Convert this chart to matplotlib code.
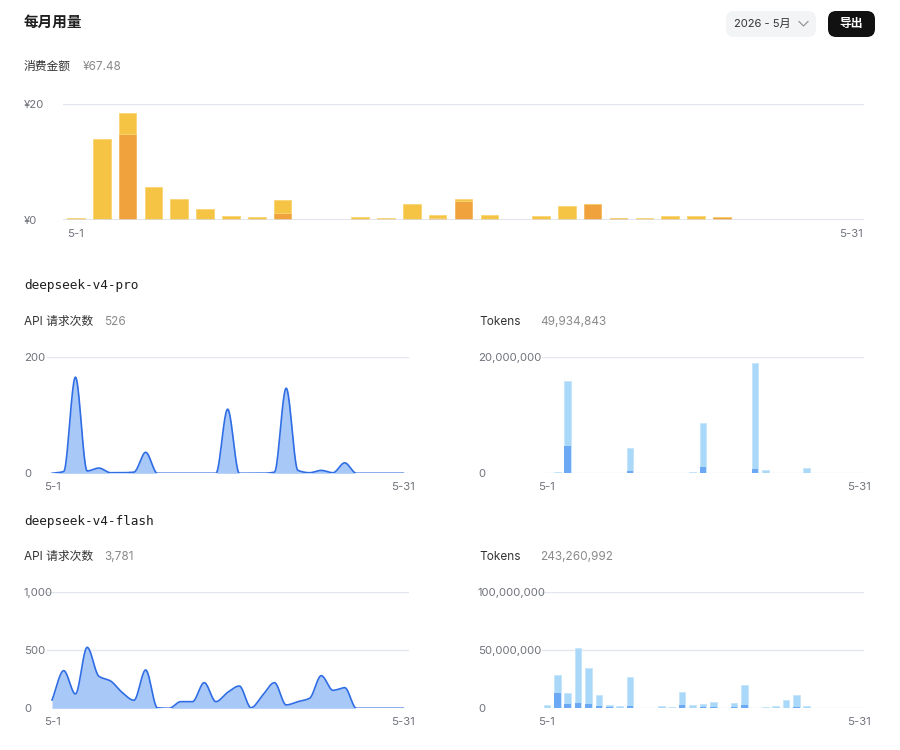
import numpy as np
import matplotlib
matplotlib.use("Agg")
import matplotlib.pyplot as plt
from matplotlib.patches import FancyBboxPatch
from matplotlib.lines import Line2D

plt.rcParams['font.family'] = ['Inter', 'Noto Sans CJK SC', 'DejaVu Sans']

W, H = 900, 750

# ---------------- data ----------------
days = np.arange(1, 32)
day_labels = ['5-1'] + [''] * 29 + ['5-31']

# daily cost (yuan): pro part (orange, bottom) and flash part (yellow, top)
cost_pro = [0, 0.2, 14.9, 0, 0, 0, 0, 0, 1.15, 0, 0, 0, 0, 0, 0.35, 3.3,
            0, 0, 0, 0, 2.7, 0.4, 0, 0, 0, 0.45, 0, 0, 0, 0, 0]
cost_flash = [0.3, 13.7, 3.5, 5.7, 3.7, 1.9, 0.7, 0.5, 2.35, 0, 0, 0.5, 0.3, 2.7, 0.5, 0.4,
              0.9, 0, 0.7, 2.5, 0, 0, 0.3, 0.7, 0.7, 0.05, 0, 0, 0, 0, 0]

# deepseek-v4-pro
pro_requests = [0, 3, 165, 4, 9, 1, 1, 2, 36, 0, 0, 0, 0, 0, 0, 110,
                0, 0, 0, 2, 146, 5, 1, 5, 1, 18, 0, 0, 0, 0, 0]
pro_tokens_total = [0, 0.23e6, 15.9e6, 0, 0.05e6, 0, 0, 0.05e6, 4.4e6, 0, 0, 0, 0, 0, 0.2e6, 8.6e6,
                    0, 0, 0, 0, 18.9e6, 0.6e6, 0, 0.1e6, 0, 0.9e6, 0, 0, 0, 0, 0]
pro_tokens_dark = [0, 0.02e6, 4.7e6, 0, 0, 0, 0, 0, 0.34e6, 0, 0, 0, 0, 0, 0.02e6, 1.0e6,
                   0, 0, 0, 0, 0.75e6, 0.05e6, 0, 0, 0, 0.05e6, 0, 0, 0, 0, 0]

# deepseek-v4-flash
flash_requests = [71, 323, 123, 523, 275, 234, 135, 69, 329, 4, 0, 57, 57, 220, 57, 137,
                  191, 5, 114, 220, 29, 57, 86, 280, 154, 177, 0, 0, 0, 0, 0]
flash_tokens_total = [2.6e6, 28.3e6, 12.9e6, 51.5e6, 34.5e6, 11.7e6, 3.1e6, 2.3e6, 26.7e6, 0, 0,
                      1.7e6, 1.1e6, 13.6e6, 2.6e6, 3.4e6, 5.4e6, 0, 4.9e6, 19.6e6, 0.5e6, 0.9e6,
                      1.7e6, 7.1e6, 11.1e6, 1.7e6, 0, 0, 0, 0, 0]
flash_tokens_dark = [0.3e6, 13.4e6, 4.0e6, 4.9e6, 3.7e6, 2.0e6, 0.8e6, 0.6e6, 2.0e6, 0, 0,
                     0.5e6, 0.3e6, 2.9e6, 0.6e6, 0.8e6, 1.0e6, 0, 0.7e6, 2.6e6, 0.1e6, 0.2e6,
                     0.4e6, 0.6e6, 0.8e6, 0.3e6, 0, 0, 0, 0, 0]

# colors
YELLOW = '#F6C444'
ORANGE = '#F0A33C'
LINE_BLUE = '#2F6DE5'
FILL_BLUE = '#A8C8F7'
TOK_LIGHT = '#A9D8F8'
TOK_DARK = '#6CA9F4'
GRID = '#E4E6EE'
TICK = '#70737C'
DARK_TEXT = '#1F1F1F'
GRAY_TEXT = '#8A8A8A'


def px_axes(fig, x0, y0, x1, y1):
    return fig.add_axes([x0 / W, 1 - y1 / H, (x1 - x0) / W, (y1 - y0) / H])


def px_text(fig, x, y, s, **kw):
    kw.setdefault('va', 'center')
    return fig.text(x / W, 1 - y / H, s, **kw)


def monotone(x, y, n=20):
    # Fritsch-Carlson monotone cubic, used only to draw the smooth line
    x = np.asarray(x, float)
    y = np.asarray(y, float)
    h = np.diff(x)
    d = np.diff(y) / h
    m = np.zeros_like(y)
    m[0], m[-1] = d[0], d[-1]
    for k in range(1, len(y) - 1):
        if d[k - 1] * d[k] > 0:
            w1 = 2 * h[k] + h[k - 1]
            w2 = h[k] + 2 * h[k - 1]
            m[k] = (w1 + w2) / (w1 / d[k - 1] + w2 / d[k])
    xs, ys = [], []
    for k in range(len(x) - 1):
        t = np.linspace(0, 1, n, endpoint=False)
        h00 = 2 * t**3 - 3 * t**2 + 1
        h10 = t**3 - 2 * t**2 + t
        h01 = -2 * t**3 + 3 * t**2
        h11 = t**3 - t**2
        xs.append(x[k] + t * h[k])
        ys.append(h00 * y[k] + h10 * h[k] * m[k] + h01 * y[k + 1] + h11 * h[k] * m[k + 1])
    xs.append([x[-1]])
    ys.append([y[-1]])
    return np.concatenate(xs), np.clip(np.concatenate(ys), 0, None)


def style_axes(ax, yticks, ylabels, ypad, xpad=5.5):
    for s in ax.spines.values():
        s.set_visible(False)
    ax.set_yticks(yticks)
    ax.set_yticklabels(ylabels)
    ax.tick_params(axis='both', length=0, colors=TICK, labelsize=8.2)
    ax.tick_params(axis='y', pad=ypad)
    ax.tick_params(axis='x', pad=xpad)
    for lab in ax.get_yticklabels():
        lab.set_horizontalalignment('left')
    ax.grid(axis='y', color=GRID, linewidth=1.0)
    ax.set_axisbelow(True)


def area_chart(ax, values, ymax, yticks, ylabels):
    xs, ys = monotone(days, values)
    ax.fill_between(xs, 0, ys, color=FILL_BLUE, linewidth=0, zorder=2)
    ax.plot(xs, ys, color=LINE_BLUE, linewidth=1.2, zorder=3)
    ax.set_xlim(0.57, 31.49)
    ax.set_ylim(0, ymax)
    ax.set_xticks([1, 31])
    ax.set_xticklabels(['5-1', '5-31'])
    style_axes(ax, yticks, ylabels, ypad=16.6, xpad=6.3)


def token_chart(ax, total, dark, ymax, yticks, ylabels):
    idx = np.arange(len(total))
    ax.bar(idx, total, width=0.64, color=TOK_LIGHT, edgecolor='#C4E4FA', linewidth=0.6, zorder=2)
    ax.bar(idx, dark, width=0.64, color=TOK_DARK, linewidth=0, zorder=3)
    ax.set_xlim(-0.5, 30.5)
    ax.set_ylim(0, ymax)
    ax.set_xticks(idx)
    ax.set_xticklabels(day_labels)
    style_axes(ax, yticks, ylabels, ypad=45.9, xpad=6.3)


fig = plt.figure(figsize=(9, 7.5), dpi=100)
fig.patch.set_facecolor('white')

# ---------------- header ----------------
px_text(fig, 24, 23, '每月用量', fontsize=10.5, fontweight='bold', color=DARK_TEXT)

sel = FancyBboxPatch((726 / W, 1 - 37 / H), 90 / W, 26 / H,
                     boxstyle='round,pad=0,rounding_size=0.009', transform=fig.transFigure,
                     facecolor='#F3F4F6', edgecolor='none', mutation_aspect=W / H)
fig.patches.append(sel)
px_text(fig, 734, 24, '2026 - 5月', fontsize=8, color='#333333')
fig.lines.append(Line2D([799 / W, 803.5 / W, 808 / W], [1 - 21.5 / H, 1 - 26 / H, 1 - 21.5 / H],
                        transform=fig.transFigure, color='#8C8C8C', linewidth=0.8))

btn = FancyBboxPatch((828 / W, 1 - 37 / H), 47 / W, 26 / H,
                     boxstyle='round,pad=0,rounding_size=0.009', transform=fig.transFigure,
                     facecolor='#111111', edgecolor='none', mutation_aspect=W / H)
fig.patches.append(btn)
px_text(fig, 851.5, 24, '导出', fontsize=8.5, color='white', ha='center', fontweight='bold')

px_text(fig, 24, 67, '消费金额', fontsize=8.5, color='#333333')
px_text(fig, 83, 67, '¥67.48', fontsize=8.5, color=GRAY_TEXT)

# ---------------- cost chart ----------------
ax0 = px_axes(fig, 63, 104, 864, 220)
idx = np.arange(len(cost_pro))
ax0.bar(idx, cost_pro, width=0.68, color=ORANGE, edgecolor='#F4B860', linewidth=0.6, zorder=2)
ax0.bar(idx, cost_flash, bottom=cost_pro, width=0.68, color=YELLOW, edgecolor='#F9D472',
        linewidth=0.6, zorder=2)
ax0.set_xlim(-0.5, 30.5)
ax0.set_ylim(0, 20)
ax0.set_xticks(idx)
ax0.set_xticklabels(day_labels)
style_axes(ax0, [0, 20], ['¥0', '¥20'], ypad=28.1, xpad=6.3)
ax0.axhline(0, color='#DADDE5', linewidth=1.8, zorder=3)

# ---------------- deepseek-v4-pro ----------------
px_text(fig, 24, 286, 'deepseek-v4-pro', fontsize=9.2, color=DARK_TEXT, family='DejaVu Sans Mono')
px_text(fig, 24, 322, 'API 请求次数', fontsize=8.5, color='#333333')
px_text(fig, 104, 322, '526', fontsize=8.5, color=GRAY_TEXT)
px_text(fig, 479, 322, 'Tokens', fontsize=8.5, color='#333333')
px_text(fig, 540, 322, '49,934,843', fontsize=8.5, color=GRAY_TEXT)

ax1 = px_axes(fig, 47, 356.7, 409, 473.3)
area_chart(ax1, pro_requests, 200, [0, 200], ['0', '200'])

ax2 = px_axes(fig, 541.7, 356.7, 864, 473.3)
token_chart(ax2, pro_tokens_total, pro_tokens_dark, 20e6, [0, 20e6], ['0', '20,000,000'])

# ---------------- deepseek-v4-flash ----------------
px_text(fig, 24, 521, 'deepseek-v4-flash', fontsize=9.2, color=DARK_TEXT, family='DejaVu Sans Mono')
px_text(fig, 24, 557, 'API 请求次数', fontsize=8.5, color='#333333')
px_text(fig, 104, 557, '3,781', fontsize=8.5, color=GRAY_TEXT)
px_text(fig, 479, 557, 'Tokens', fontsize=8.5, color='#333333')
px_text(fig, 540, 557, '243,260,992', fontsize=8.5, color=GRAY_TEXT)

ax3 = px_axes(fig, 47, 591.7, 409, 708.3)
area_chart(ax3, flash_requests, 1000, [0, 500, 1000], ['0', '500', '1,000'])

ax4 = px_axes(fig, 541.7, 591.7, 864, 708.3)
token_chart(ax4, flash_tokens_total, flash_tokens_dark, 100e6, [0, 50e6, 100e6],
            ['0', '50,000,000', '100,000,000'])

fig.savefig('out.png', dpi=100, facecolor='white')
